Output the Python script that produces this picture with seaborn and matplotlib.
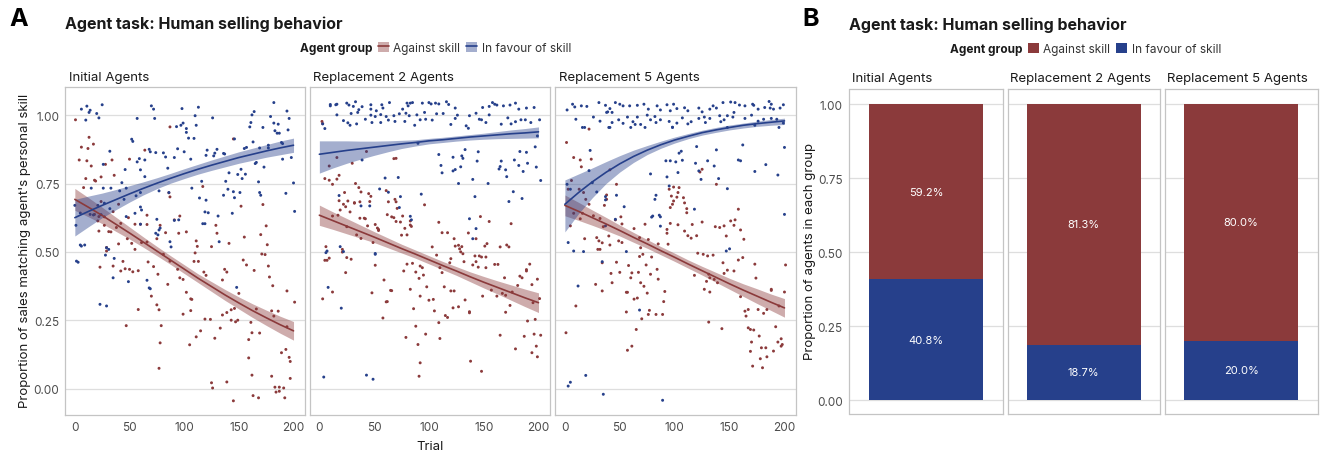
import numpy as np
import pandas as pd
import matplotlib
matplotlib.use("Agg")
import matplotlib.pyplot as plt
import seaborn as sns
from matplotlib.patches import Patch
from matplotlib.lines import Line2D

# ---------------- data ----------------
facets = ["Initial Agents", "Replacement 2 Agents", "Replacement 5 Agents"]
groups = ["Against skill", "In favour of skill"]

# Panel A scatter points (trial, proportion)
init_fav = [(25,1.038),(11,1.033),(6,1.022),(14,1.018),(13,1.010),(20,1.006),(10,0.982),(22,0.990),
    (70,1.034),(72,1.022),(57,0.988),(73,0.988),(98,1.024),(113,1.029),(110,0.998),(126,0.990),
    (99,0.971),(97,0.963),(93,0.958),(102,0.951),(102,0.937),(111,0.963),(104,0.916),(109,0.915),
    (182,1.046),(164,1.013),(162,1.001),(161,0.973),(160,0.957),(172,0.955),(179,0.995),(182,0.971),
    (186,0.967),(183,0.943),(185,0.934),(187,0.934),(194,1.015),(196,0.988),(195,0.946),
    (52,0.912),(53,0.904),(32,0.868),(26,0.820),(68,0.875),(69,0.866),(74,0.863),(81,0.862),(83,0.847),
    (59,0.841),(57,0.829),(64,0.836),(91,0.845),(94,0.877),(100,0.866),(106,0.839),(121,0.872),
    (128,0.861),(130,0.875),(120,0.853),(136,0.860),(137,0.858),(127,0.851),(146,0.913),(155,0.878),
    (157,0.882),(163,0.902),(169,0.880),(177,0.890),(177,0.880),(189,0.900),(190,0.896),(198,0.845),
    (190,0.839),(165,0.823),(173,0.810),(166,0.827),(152,0.802),(149,0.783),(156,0.784),(141,0.789),
    (138,0.758),(153,0.768),(85,0.806),(60,0.800),(64,0.775),(46,0.801),(43,0.753),(47,0.733),
    (26,0.733),(33,0.733),(15,0.733),(41,0.723),(200,0.752),(168,0.756),(140,0.729),(145,0.720),
    (146,0.698),(151,0.717),(169,0.717),(170,0.707),(136,0.707),(107,0.733),(116,0.758),(114,0.697),
    (120,0.689),(86,0.717),(77,0.723),(56,0.705),(60,0.717),(45,0.692),(193,0.714),(201,0.648),
    (144,0.641),(131,0.631),(119,0.646),(122,0.643),(117,0.603),(119,0.603),(91,0.615),(95,0.617),
    (75,0.619),(60,0.664),(61,0.653),(60,0.601),(47,0.629),(55,0.641),(27,0.678),(21,0.670),
    (14,0.637),(17,0.635),(5,0.642),(32,0.658),(24,0.636),(77,0.580),(78,0.587),(74,0.568),
    (76,0.562),(87,0.537),(88,0.518),(132,0.537),(0,0.670),(1,0.597),(5,0.525),(6,0.521),(9,0.525),
    (1.5,0.466),(3,0.462),(29,0.515),(31,0.509),(28,0.488),(35,0.405),(49,0.391),(66,0.396),
    (68,0.368),(69,0.365),(23,0.308),(29,0.302),(148,0.370),(36,0.476)]

init_ag = [(0.6,0.983),(13,0.919),(6,0.883),(12,0.878),(17,0.894),(4,0.836),(11,0.833),(15,0.814),
    (10,0.768),(18,0.762),(19,0.759),(24,0.774),(8,0.735),(28,0.820),(34,0.836),(36,0.780),
    (50,0.839),(64,0.872),(87,0.957),(145,0.913),(117,0.739),(86,0.716),(87,0.701),
    (24,0.684),(18,0.637),(22,0.629),(21,0.613),(35,0.647),(40,0.674),(27,0.628),(27,0.597),
    (33,0.573),(22,0.576),(31,0.574),(38,0.589),(42,0.604),(49,0.625),(66,0.634),(55,0.601),
    (66,0.600),(60,0.601),(78,0.597),(83,0.570),(91,0.617),(96,0.631),(102,0.573),(95,0.568),
    (48,0.548),(52,0.531),(55,0.509),(61,0.534),(66,0.536),(75,0.548),(29,0.516),(29,0.503),
    (40,0.529),(44,0.465),(35,0.448),(23,0.444),(42,0.430),(46,0.438),(50,0.436),(53,0.427),
    (58,0.431),(67,0.463),(72,0.446),(76,0.418),(87,0.466),(94,0.436),(96,0.405),(99,0.399),
    (85,0.381),(81,0.491),(110,0.496),(111,0.540),(112,0.520),(109,0.465),(113,0.465),(118,0.426),
    (120,0.414),(129,0.597),(130,0.568),(125,0.519),(141,0.531),(155,0.554),(154,0.470),(137,0.436),
    (139,0.426),(135,0.397),(157,0.452),(164,0.432),(152,0.667),(172,0.673),(175,0.595),(170,0.563),
    (176,0.526),(171,0.492),(174,0.490),(177,0.448),(178,0.408),(181,0.376),(194,0.357),(201,0.316),
    (102,0.352),(106,0.328),(106,0.285),(107,0.326),(99,0.272),(70,0.338),(75,0.306),(77,0.288),
    (58,0.289),(47,0.230),(79,0.230),(78,0.167),(77,0.074),(111,0.189),(115,0.211),(105,0.160),
    (119,0.254),(124,0.253),(128,0.184),(133,0.221),(135,0.269),(139,0.278),(143,0.288),(146,0.293),
    (143,0.250),(147,0.244),(149,0.250),(150,0.348),(161,0.242),(159,0.179),(162,0.204),(169,0.203),
    (166,0.291),(186,0.283),(180,0.284),(182,0.265),(194,0.226),(193,0.143),(189,0.131),(196,0.114),
    (197,0.099),(197,0.037),(159,0.112),(162,0.049),(180,0.045),(183,0.005),(187,0.005),(191,0.002),
    (184,-0.013),(187,-0.010),(192,-0.034),(163,-0.026),(168,-0.034),(145,-0.045),(125,0.021),
    (126,0.002),(139,0.024)]

rep2_fav = [(10,1.039),(10,1.034),(15,1.038),(16,1.040),(25,1.044),(27,1.037),(33,1.049),(31,1.032),(36,1.020),(39,1.031),
    (47,1.038),(57,1.038),(58,1.026),(52,1.016),(47,1.022),
    (64,1.046),(80,1.044),(83,1.044),(85,1.046),(81,1.034),(76,1.022),(79,1.007),
    (94,1.044),(100,1.046),(102,1.041),(106,1.044),(109,1.041),(116,1.049),(118,1.039),(124,1.026),
    (149,1.028),(155,1.032),(158,1.046),(160,1.040),(162,1.037),(168,1.034),(174,1.037),(179,1.044),(182,1.022),(189,1.026),(196,1.028),
    (16,1.001),(22,0.980),(29,1.006),(35,1.010),(28,0.963),(34,0.968),(26,0.972),
    (42,0.985),(47,1.000),(51,0.995),(56,1.002),(61,0.995),(68,0.998),(73,1.005),
    (48,0.973),(56,0.973),(63,0.982),(69,0.977),(78,0.977),(82,0.998),(89,1.001),(96,1.010),
    (87,0.963),(92,0.983),(97,0.985),(103,0.982),(107,1.005),(113,1.006),(120,0.966),(124,0.988),(126,1.000),
    (134,0.961),(136,0.952),(137,0.998),(143,1.007),(146,0.985),(148,0.983),(152,0.973),(155,1.001),
    (166,0.967),(172,0.990),(175,0.968),(179,0.976),(184,0.983),(188,0.983),(193,0.973),(201,0.983),
    (3,0.968),(5,0.951),
    (199,0.924),(197,0.884),(198,0.810),(202,0.761),(90,0.897),(39,0.836),
    (109,0.856),(111,0.816),(112,0.789),(122,0.846),(122,0.796),(124,0.801),(129,0.811),(130,0.851),(131,0.842),(133,0.874),(140,0.765),(145,0.866),(144,0.832),(127,0.750),(154,0.750),
    (166,0.832),(164,0.803),(165,0.812),(170,0.800),(171,0.775),(178,0.836),(182,0.816),(183,0.867),(186,0.794),(190,0.824),(189,0.864),
    (60,0.770),(72,0.772),(18,0.706),(55,0.730),(63,0.718),(74,0.702),(73,0.662),(83,0.630),(84,0.617),(38,0.668),(46,0.668),(93,0.711),(142,0.702),(177,0.720),(173,0.684),(185,0.695),
    (137,0.621),(143,0.585),(140,0.548),(6,0.497),(7,0.503),(19,0.519),(22,0.501),(51,0.491),(51,0.494),(8,0.370),(20,0.294),(4,0.042),(43,0.049),(49,0.034)]

rep2_ag = [(2.4,0.977),(3,0.969),(5,0.768),(9,0.762),(12,0.747),(16,0.766),(18,0.780),(9,0.814),
    (16,0.845),(30,0.824),(43,0.867),(68,0.841),(70,0.842),
    (33,0.750),(36,0.735),(38,0.719),(45,0.713),(47,0.703),(46,0.684),(37,0.683),
    (23,0.717),(18,0.687),(26,0.686),(22,0.674),(24,0.665),(32,0.680),(19,0.653),
    (12,0.631),(17,0.634),(28,0.646),(32,0.678),(61,0.724),(63,0.683),(70,0.683),(69,0.692),(71,0.659),(96,0.672),
    (37,0.623),(41,0.623),(42,0.621),(44,0.595),(51,0.600),(53,0.587),(54,0.578),(49,0.534),(54,0.582),
    (62,0.636),(66,0.628),(68,0.625),(70,0.611),(74,0.609),(76,0.631),(78,0.586),(80,0.562),(83,0.613),(83,0.598),(84,0.593),(75,0.561),
    (34,0.562),(38,0.549),(25,0.592),
    (6,0.519),(7,0.469),(5,0.469),(9,0.477),(21,0.509),(21,0.499),(25,0.479),(29,0.473),
    (24,0.424),(3,0.328),(12,0.353),(48,0.350),
    (51,0.451),(59,0.397),(65,0.359),(66,0.358),(61,0.317),(62,0.318),(58,0.258),
    (77,0.430),(80,0.455),(85,0.458),(88,0.426),(92,0.448),(94,0.442),(95,0.415),(91,0.403),(83,0.363),(92,0.338),(98,0.372),(100,0.323),(104,0.326),(105,0.284),(86,0.292),(79,0.187),(88,0.228),(90,0.161),(92,0.094),(91,0.045),(97,0.199),(110,0.183),
    (103,0.518),(107,0.488),(112,0.570),(117,0.570),(110,0.442),(112,0.424),(114,0.372),(115,0.267),(117,0.260),(109,0.241),
    (119,0.460),(120,0.475),(123,0.548),(124,0.521),(127,0.524),(128,0.511),(130,0.519),(129,0.500),(131,0.493),(136,0.569),(143,0.548),(147,0.629),(155,0.611),(153,0.530),(151,0.521),(142,0.485),(143,0.464),(146,0.485),(148,0.481),(132,0.464),(140,0.452),(145,0.444),(152,0.481),(152,0.442),
    (109,0.608),(165,0.518),(171,0.525),(173,0.518),(175,0.603),(165,0.195),(160,0.454),(163,0.454),(169,0.405),(157,0.360),(162,0.338),(167,0.348),(170,0.341),
    (120,0.357),(122,0.295),(127,0.299),(133,0.324),(137,0.281),(137,0.277),(149,0.338),(123,0.357),
    (179,0.145),(187,0.191),(190,0.247),(197,0.253),(196,0.199),(198,0.155),(202,0.195),(199,0.116),(194,0.131),(174,0.304),(170,0.279),(181,0.377),(183,0.411),(189,0.435),(192,0.455),(189,0.430),(194,0.380),(199,0.400),(201,0.329),(195,0.314),(185,0.405),(176,0.353),
    (138,0.100),(148,0.063)]

rep5_fav = [(2,1.019),(7,1.040),(9,1.030),(15,1.034),(20,1.032),(31,1.046),(37,1.036),(39,1.012),(41,1.024),(43,1.010),
    (46,1.046),(50,1.040),(53,1.034),(59,1.034),(66,1.036),(72,1.040),(76,1.022),(84,1.034),(87,1.019),(93,1.038),
    (96,1.016),(99,1.040),(102,1.024),(109,1.027),(112,1.016),(122,1.026),(125,1.012),(132,1.022),(135,1.034),(138,1.026),
    (144,1.046),(151,1.048),(155,1.046),(159,1.037),(164,1.034),(171,1.040),(172,1.036),(176,1.022),(182,1.028),(186,1.050),
    (188,1.040),(187,1.026),(190,1.022),(196,1.026),(199,1.038),
    (10,0.985),(26,0.993),(32,0.978),(38,1.010),(43,0.973),(49,0.983),(53,0.970),(57,0.993),(62,0.976),(64,0.966),
    (66,0.993),(69,0.966),(75,1.000),(78,0.983),(82,0.995),(83,0.973),(87,0.983),(95,0.977),(98,0.956),(102,0.971),
    (107,0.990),(112,0.968),(115,0.976),(122,0.988),(127,0.993),(128,0.973),(132,0.988),(141,0.998),(142,0.976),(145,0.983),
    (148,0.998),(153,0.993),(154,1.010),(164,0.988),(170,1.000),(173,0.963),(176,0.978),(181,0.985),(188,0.988),(193,0.985),
    (195,0.955),(199,0.971),
    (16,0.955),(18,0.955),(40,0.955),(41,0.955),(60,0.955),(73,0.955),(98,0.955),(148,0.955),
    (23,0.871),(22,0.797),(25,0.753),(29,0.719),(37,0.690),(37,0.702),
    (2,0.747),(5,0.729),(3,0.534),(8,0.503),(17,0.501),(12,0.375),(19,0.048),(5,0.023),(3,0.009),(35,-0.021),(89,-0.043),
    (47,0.707),(54,0.665),(46,0.619),(56,0.501),(34,0.464),(37,0.595),
    (78,0.785),(83,0.707),(82,0.692),(80,0.631),(79,0.627),(86,0.634),(87,0.594),(87,0.628),(95,0.741),(93,0.774),
    (92,0.833),(96,0.833),(101,0.829),(103,0.790),(104,0.861),(106,0.868),(107,0.835),(118,0.656),(119,0.824),(120,0.885),
    (122,0.796),(124,0.765),(130,0.833),(136,0.814),(138,0.873),(140,0.768),(148,0.731),(147,0.503),(150,0.511),(158,0.836),
    (160,0.833),(162,0.891),(173,0.794),(183,0.819),(194,0.781),(200,0.637),(200,0.882),(68,0.287)]

rep5_ag = [(1.5,0.900),(8,0.845),(14,0.836),(15,0.811),(24,0.839),(41,0.800),(47,0.747),(22,0.949),
    (3,0.729),(6,0.761),(13,0.729),(17,0.717),(19,0.692),(22,0.674),(5,0.595),(8,0.641),(14,0.621),(16,0.641),
    (26,0.632),(32,0.622),(35,0.592),(38,0.708),(38,0.692),(36,0.670),(46,0.617),(52,0.602),(51,0.628),
    (18,0.548),(29,0.552),(31,0.540),(34,0.533),(32,0.509),(30,0.509),(40,0.558),(41,0.525),(49,0.540),
    (52,0.534),(63,0.585),(68,0.552),(73,0.601),(76,0.545),(69,0.515),(71,0.491),
    (34,0.460),(42,0.421),(43,0.387),(50,0.425),(47,0.462),(58,0.450),(61,0.423),(60,0.405),(67,0.425),(69,0.387),
    (68,0.483),(74,0.452),(78,0.418),(79,0.481),(84,0.436),(85,0.400),(28,0.381),(34,0.357),(56,0.352),(57,0.352),
    (63,0.327),(66,0.331),(72,0.374),(75,0.349),(91,0.355),(90,0.318),(77,0.286),(76,0.271),(83,0.271),(89,0.271),
    (70,0.255),(56,0.280),(65,0.216),(61,0.155),(57,0.140),(1,0.204),(10,0.302),
    (96,0.662),(97,0.704),(99,0.686),(103,0.717),(102,0.700),(108,0.698),(109,0.679),(111,0.658),(111,0.643),(109,0.576),
    (112,0.559),(103,0.599),(116,0.600),(115,0.550),(120,0.559),(93,0.568),(93,0.582),(85,0.529),(94,0.528),(96,0.604),
    (98,0.674),(104,0.735),(99,0.737),(95,0.729),
    (125,0.609),(125,0.802),(123,0.792),(138,0.747),(141,0.589),(137,0.592),(145,0.595),(147,0.558),(151,0.613),(154,0.597),
    (155,0.617),(158,0.656),(160,0.580),(163,0.546),(126,0.491),(130,0.485),(135,0.488),(121,0.495),(118,0.414),(129,0.392),
    (131,0.418),(132,0.405),(136,0.399),(127,0.363),(132,0.353),(139,0.387),(144,0.460),(148,0.433),(145,0.421),(154,0.430),
    (158,0.470),(162,0.479),(173,0.455),(174,0.404),(188,0.359),(188,0.363),(201,0.452),(160,0.336),(167,0.289),(165,0.265),
    (164,0.283),(176,0.289),(181,0.275),(184,0.289),(195,0.302),(131,0.243),(143,0.219),(167,0.222),(169,0.216),(172,0.214),
    (177,0.192),(170,0.170),(179,0.149),(183,0.149),(190,0.137),(169,0.136),(171,0.082),(178,0.109),(184,0.116),(180,0.076),
    (192,0.226),(197,0.182),(194,0.170),(197,0.155),(198,0.161),(200,0.353)]

# Panel A fitted curves and ribbon bounds
fit_trials = [0, 12.5, 25, 37.5, 50, 62.5, 75, 87.5, 100, 112.5, 125, 137.5, 150, 162.5, 175, 187.5, 200]
init_fav_fit = [0.625, 0.648, 0.670, 0.691, 0.712, 0.732, 0.751, 0.769, 0.786, 0.802, 0.817, 0.831, 0.845, 0.857, 0.869, 0.880, 0.890]
init_fav_lo  = [0.558, 0.592, 0.625, 0.654, 0.682, 0.708, 0.731, 0.751, 0.768, 0.784, 0.798, 0.811, 0.824, 0.835, 0.846, 0.855, 0.864]
init_fav_hi  = [0.692, 0.704, 0.715, 0.728, 0.742, 0.756, 0.771, 0.787, 0.804, 0.820, 0.836, 0.851, 0.866, 0.879, 0.892, 0.905, 0.916]
init_ag_fit  = [0.692, 0.663, 0.633, 0.601, 0.569, 0.536, 0.503, 0.470, 0.437, 0.404, 0.373, 0.342, 0.313, 0.285, 0.259, 0.234, 0.211]
init_ag_lo   = [0.652, 0.628, 0.603, 0.575, 0.547, 0.517, 0.486, 0.454, 0.421, 0.388, 0.355, 0.322, 0.291, 0.260, 0.231, 0.203, 0.177]
init_ag_hi   = [0.732, 0.698, 0.663, 0.627, 0.591, 0.555, 0.520, 0.486, 0.453, 0.420, 0.391, 0.362, 0.335, 0.310, 0.287, 0.265, 0.245]
rep2_fav_fit = [0.857, 0.864, 0.871, 0.877, 0.883, 0.889, 0.895, 0.900, 0.906, 0.910, 0.915, 0.920, 0.924, 0.928, 0.932, 0.935, 0.939]
rep2_fav_lo  = [0.788, 0.807, 0.824, 0.839, 0.853, 0.866, 0.878, 0.887, 0.895, 0.900, 0.905, 0.909, 0.912, 0.914, 0.915, 0.916, 0.917]
rep2_fav_hi  = [0.906, 0.906, 0.906, 0.905, 0.905, 0.906, 0.908, 0.910, 0.915, 0.919, 0.924, 0.929, 0.934, 0.940, 0.946, 0.951, 0.957]
rep2_ag_fit  = [0.634, 0.614, 0.594, 0.574, 0.554, 0.533, 0.512, 0.492, 0.471, 0.450, 0.430, 0.409, 0.389, 0.370, 0.351, 0.332, 0.314]
rep2_ag_lo   = [0.597, 0.582, 0.566, 0.550, 0.534, 0.515, 0.496, 0.477, 0.456, 0.435, 0.414, 0.391, 0.368, 0.346, 0.323, 0.300, 0.278]
rep2_ag_hi   = [0.671, 0.646, 0.622, 0.598, 0.574, 0.551, 0.528, 0.507, 0.486, 0.465, 0.446, 0.427, 0.410, 0.394, 0.379, 0.364, 0.350]
rep5_fav_fit = [0.674, 0.717, 0.756, 0.791, 0.822, 0.849, 0.872, 0.892, 0.909, 0.923, 0.936, 0.946, 0.955, 0.963, 0.969, 0.974, 0.979]
rep5_fav_lo  = [0.573, 0.640, 0.698, 0.750, 0.792, 0.827, 0.856, 0.879, 0.898, 0.914, 0.927, 0.937, 0.946, 0.953, 0.959, 0.963, 0.966]
rep5_fav_hi  = [0.763, 0.785, 0.807, 0.830, 0.852, 0.872, 0.889, 0.905, 0.920, 0.933, 0.945, 0.955, 0.964, 0.971, 0.978, 0.984, 0.989]
rep5_ag_fit  = [0.670, 0.648, 0.625, 0.602, 0.578, 0.553, 0.529, 0.504, 0.480, 0.455, 0.431, 0.407, 0.383, 0.360, 0.338, 0.316, 0.295]
rep5_ag_lo   = [0.632, 0.615, 0.597, 0.578, 0.558, 0.535, 0.513, 0.489, 0.465, 0.440, 0.415, 0.389, 0.363, 0.337, 0.311, 0.286, 0.261]
rep5_ag_hi   = [0.708, 0.681, 0.653, 0.626, 0.598, 0.571, 0.545, 0.519, 0.495, 0.470, 0.447, 0.425, 0.403, 0.383, 0.365, 0.346, 0.329]

# Panel B shares (%)
share_against = [59.2, 81.3, 80.0]
share_favour = [40.8, 18.7, 20.0]

# ---------------- style ----------------
sns.set_theme(style="white")
plt.rcParams['font.family'] = ['Inter', 'DejaVu Sans']

RED = "#8B3A3B"
BLUE = "#26408B"
palette = {"Against skill": RED, "In favour of skill": BLUE}
GRID = "#DEDEDE"
BORDER = "#C4C4C4"
TICKC = "#4D4D4D"

W, H = 1322, 456
fig = plt.figure(figsize=(W / 100, H / 100), dpi=100)


def add_ax(left, right, top, bottom):
    return fig.add_axes([left / W, 1 - bottom / H, (right - left) / W, (bottom - top) / H])


def fxy(x, y):
    return x / W, 1 - y / H


def style_ax(ax):
    for s in ax.spines.values():
        s.set_color(BORDER)
        s.set_linewidth(0.9)
    ax.grid(False)
    ax.tick_params(length=0, labelsize=8.5, colors=TICKC, pad=4)
    ax.set_xlabel("")
    ax.set_ylabel("")


# ---------------- Panel A ----------------
scatter_sets = [(init_ag, init_fav), (rep2_ag, rep2_fav), (rep5_ag, rep5_fav)]
fit_sets = [
    ((init_ag_fit, init_ag_lo, init_ag_hi), (init_fav_fit, init_fav_lo, init_fav_hi)),
    ((rep2_ag_fit, rep2_ag_lo, rep2_ag_hi), (rep2_fav_fit, rep2_fav_lo, rep2_fav_hi)),
    ((rep5_ag_fit, rep5_ag_lo, rep5_ag_hi), (rep5_fav_fit, rep5_fav_lo, rep5_fav_hi)),
]
a_boxes = [(65, 305), (309.5, 550), (555, 796)]
A_TOP, A_BOT = 88, 415.5

for j, (l, r) in enumerate(a_boxes):
    ax = add_ax(l, r, A_TOP, A_BOT)
    ag, fav = scatter_sets[j]
    pts = pd.DataFrame(
        [(x, y, "Against skill") for x, y in ag] + [(x, y, "In favour of skill") for x, y in fav],
        columns=["trial", "prop", "group"])
    for yv in [0, 0.25, 0.5, 0.75, 1.0]:
        ax.axhline(yv, color=GRID, lw=0.9, zorder=0)
    sns.scatterplot(data=pts, x="trial", y="prop", hue="group", palette=palette,
                    s=4.5, linewidth=0, legend=False, ax=ax, zorder=2)
    for g, (fit, lo, hi) in zip(groups, fit_sets[j]):
        ax.fill_between(fit_trials, lo, hi, color=palette[g], alpha=0.42, linewidth=0, zorder=3)
    for g, (fit, lo, hi) in zip(groups, fit_sets[j]):
        fd = pd.DataFrame({"trial": fit_trials, "fit": fit})
        sns.lineplot(data=fd, x="trial", y="fit", color=palette[g], lw=1.2,
                     ax=ax, zorder=4, sort=False, estimator=None)
    ax.set_xlim(-9, 210.5)
    ax.set_ylim(-0.095, 1.103)
    ax.set_xticks([0, 50, 100, 150, 200])
    ax.set_yticks([0, 0.25, 0.5, 0.75, 1.0])
    ax.set_yticklabels(["0.00", "0.25", "0.50", "0.75", "1.00"])
    style_ax(ax)
    ax.tick_params(axis="x", pad=5)
    if j > 0:
        ax.set_yticklabels([])
    ax.text(0.015, 1.0 + 10 / (A_BOT - A_TOP), facets[j], transform=ax.transAxes,
            ha="left", va="center", fontsize=9.5, color="#1A1A1A")

fig.text(*fxy(430, 447), "Trial", ha="center", va="center", fontsize=9.5, color="#1A1A1A")
fig.text(*fxy(25, 251), "Proportion of sales matching agent's personal skill", ha="center",
         va="center", rotation=90, fontsize=9.5, color="#1A1A1A")
fig.text(*fxy(9, 19), "A", ha="left", va="center", fontsize=18, fontweight="bold", color="black")
fig.text(*fxy(65, 24), "Agent task: Human selling behavior", ha="left", va="center",
         fontsize=11.5, fontweight="bold", color="#1A1A1A")
fig.text(*fxy(300, 49), "Agent group", ha="left", va="center", fontsize=8.5,
         fontweight="bold", color="#1A1A1A")
handles_a = [(Patch(facecolor=palette[g], alpha=0.42, edgecolor="none"),
              Line2D([], [], color=palette[g], lw=1.2)) for g in groups]
fig.legend(handles_a, groups, loc="center left", bbox_to_anchor=fxy(378, 49), ncol=2,
           frameon=False, fontsize=8.5, handlelength=0.95, handleheight=0.95,
           handletextpad=0.35, columnspacing=0.5, borderpad=0, borderaxespad=0,
           labelcolor="#333333")

# ---------------- Panel B ----------------
b_boxes = [(849.5, 1002.5), (1007.5, 1160), (1165, 1317.5)]
B_TOP, B_BOT = 90, 415
for j, (l, r) in enumerate(b_boxes):
    ax = add_ax(l, r, B_TOP, B_BOT)
    for yv in [0, 0.25, 0.5, 0.75, 1.0]:
        ax.axhline(yv, color=GRID, lw=0.9, zorder=0)
    bd = pd.DataFrame({"facet": [facets[j]],
                       "total": [(share_against[j] + share_favour[j]) / 100],
                       "favour": [share_favour[j] / 100]})
    sns.barplot(data=bd, x="facet", y="total", color=RED, saturation=1, width=0.9,
                linewidth=0, ax=ax, zorder=2)
    sns.barplot(data=bd, x="facet", y="favour", color=BLUE, saturation=1, width=0.9,
                linewidth=0, ax=ax, zorder=3)
    fav = share_favour[j] / 100
    ag = share_against[j] / 100
    ax.text(0, fav / 2, f"{share_favour[j]:.1f}%", ha="center", va="center",
            color="white", fontsize=8, zorder=5)
    ax.text(0, fav + ag / 2, f"{share_against[j]:.1f}%", ha="center", va="center",
            color="white", fontsize=8, zorder=5)
    ax.set_xlim(-0.6, 0.6)
    ax.set_ylim(-0.047, 1.051)
    ax.set_xticks([])
    ax.set_yticks([0, 0.25, 0.5, 0.75, 1.0])
    ax.set_yticklabels(["0.00", "0.25", "0.50", "0.75", "1.00"])
    style_ax(ax)
    ax.tick_params(axis="y", pad=5)
    if j > 0:
        ax.set_yticklabels([])
    ax.text(0.015, 1.0 + 11 / (B_BOT - B_TOP), facets[j], transform=ax.transAxes,
            ha="left", va="center", fontsize=9.5, color="#1A1A1A")

fig.text(*fxy(810, 252), "Proportion of agents in each group", ha="center", va="center",
         rotation=90, fontsize=9.5, color="#1A1A1A")
fig.text(*fxy(802, 19), "B", ha="left", va="center", fontsize=18, fontweight="bold", color="black")
fig.text(*fxy(849, 25), "Agent task: Human selling behavior", ha="left", va="center",
         fontsize=11.5, fontweight="bold", color="#1A1A1A")
fig.text(*fxy(950, 50), "Agent group", ha="left", va="center", fontsize=8.5,
         fontweight="bold", color="#1A1A1A")
handles_b = [Patch(facecolor=palette[g], edgecolor="none") for g in groups]
fig.legend(handles_b, groups, loc="center left", bbox_to_anchor=fxy(1028, 50), ncol=2,
           frameon=False, fontsize=8.5, handlelength=0.95, handleheight=0.95,
           handletextpad=0.35, columnspacing=0.5, borderpad=0, borderaxespad=0,
           labelcolor="#333333")

fig.savefig("out.png", dpi=100)
